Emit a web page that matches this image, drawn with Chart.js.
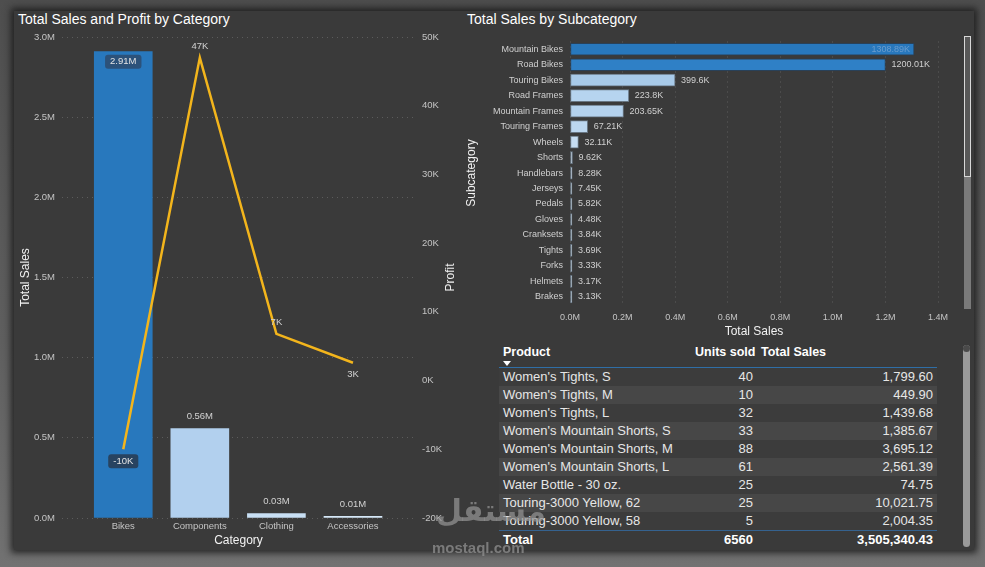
<!DOCTYPE html>
<html lang="en">
<head>
<meta charset="utf-8">
<title>Sales dashboard</title>
<script src="https://cdn.jsdelivr.net/npm/chart.js@4.4.1/dist/chart.umd.min.js"></script>
<style>
    body { margin:0; width:985px; height:567px; overflow:hidden; position:relative;
           background:linear-gradient(to bottom, #4e4e4e 0, #5f5f5f 60%, #727272 100%);
           font-family:"Liberation Sans", Arial, sans-serif; }
    #panel { position:absolute; left:14px; top:11px; width:960px; height:539px; background:#3a3a3a;
             box-shadow:0 0 7px 3px rgba(25,25,25,0.85); }
    .title { position:absolute; color:#ffffff; font-size:14px; line-height:16px; white-space:nowrap; }
    canvas { position:absolute; }
    .track { position:absolute; background:#7a7a7a; }
    #thumb1 { position:absolute; left:964px; top:36px; width:5px; height:139px; background:#585858; border:1px solid #d8d8d8; }
    #track2 { left:963px; top:345px; width:7px; height:202px; border-radius:4px; background:#9a9a9a; }
    #knob { position:absolute; left:963px; top:345px; width:7px; height:7px; border-radius:50%; background:#4a4a4a; }
    table { position:absolute; left:499px; top:340px; width:438px; border-collapse:collapse; color:#e6e6e6; font-size:13px; table-layout:fixed; }
    th { height:27px; font-size:12.5px; font-weight:bold; color:#ffffff; padding:0 4px; vertical-align:top; white-space:nowrap;
         border-bottom:1px solid #2f6ea6; }
    th span { display:block; margin-top:5px; line-height:15px; }
    td { height:18px; padding:0 4px; line-height:18px; white-space:nowrap; }
    tbody tr:nth-child(even) td { background:#474747; }
    tbody tr:nth-child(odd) td { background:#3c3c3c; }
    tfoot td { font-weight:bold; color:#ffffff; border-top:1px solid #35628f; height:17px; line-height:17px; }
    .num { text-align:right; }
    .arrow { width:0; height:0; border-left:4px solid transparent; border-right:4px solid transparent; border-top:5px solid #ffffff; margin-top:1px; }
    .wm { position:absolute; color:rgba(150,150,150,0.7); font-weight:bold; white-space:nowrap; }
</style>
</head>
<body>
<div id="panel"></div>
<div class="title" style="left:18px; top:11px;">Total Sales and Profit by Category</div>
<div class="title" style="left:467px; top:11px;">Total Sales by Subcategory</div>

<canvas id="comboChart" width="446" height="537" style="left:14px; top:11px;"></canvas>
<canvas id="subChart" width="515" height="328" style="left:460px; top:11px;"></canvas>

<div class="track" style="left:964px; top:36px; width:7px; height:273px;"></div>
<div id="thumb1"></div>

<table id="productTable"></table>
<div class="track" id="track2"></div>
<div id="knob"></div>

<div class="wm" style="left:436px; top:493px; font-size:30px; font-family:'DejaVu Sans';">مستقل</div>
<div class="wm" style="left:432px; top:539px; font-size:15px;">mostaql.com</div>

<script>
    /* chart data */
    const categories = ["Bikes", "Components", "Clothing", "Accessories"];
    const categorySales = [2908500, 558000, 28000, 10000];
    const categoryProfit = [-10000, 47000, 6800, 2600];

    const subcategories = ["Mountain Bikes", "Road Bikes", "Touring Bikes", "Road Frames", "Mountain Frames",
        "Touring Frames", "Wheels", "Shorts", "Handlebars", "Jerseys", "Pedals", "Gloves", "Cranksets",
        "Tights", "Forks", "Helmets", "Brakes"];
    const subcategorySales = [1308890, 1200010, 399600, 223800, 203650, 67210, 32110, 9620, 8280, 7450,
        5820, 4480, 3840, 3690, 3330, 3170, 3130];

    const products = ["Women's Tights, S", "Women's Tights, M", "Women's Tights, L", "Women's Mountain Shorts, S",
        "Women's Mountain Shorts, M", "Women's Mountain Shorts, L", "Water Bottle - 30 oz.",
        "Touring-3000 Yellow, 62", "Touring-3000 Yellow, 58"];
    const unitsSold = [40, 10, 32, 33, 88, 61, 25, 25, 5];
    const productSales = [1799.60, 449.90, 1439.68, 1385.67, 3695.12, 2561.39, 74.75, 10021.75, 2004.35];
    const totalUnits = 6560;
    const totalSales = 3505340.43;

    /* colours */
    const catColors = ['#2878bd', '#b2d0ee', '#c8dff4', '#d6e8f8'];
    const subColors = ['#2878bd', '#2f80c6', '#a8cae9', '#b6d4ef', '#b4d2ee', '#bcd7f0', '#c6ddf2',
        '#d0e3f5', '#d0e3f5', '#d0e3f5', '#d0e3f5', '#d0e3f5', '#d0e3f5', '#d0e3f5', '#d0e3f5', '#d0e3f5', '#d0e3f5'];
    const tickColor = '#c4c4c4';
    const gridColor = '#5c5c5c';
    const FONT = '"Liberation Sans", Arial, sans-serif';

    function fmtM(v){ return (v / 1e6).toFixed(2) + 'M'; }
    function fmtK(v){ return Math.round(v / 1000) + 'K'; }
    function fmtK2(v){ return parseFloat((v / 1000).toFixed(2)) + 'K'; }
    function money(v){ return v.toLocaleString('en-US', {minimumFractionDigits: 2, maximumFractionDigits: 2}); }

    function boxText(ctx, txt, x, y, bg){
        const w = ctx.measureText(txt).width + 10;
        ctx.fillStyle = bg;
        ctx.beginPath();
        ctx.roundRect(x - w / 2, y - 7, w, 14, 3);
        ctx.fill();
        ctx.fillStyle = '#e4e4e4';
        ctx.fillText(txt, x, y);
    }

    /* labels on the combo chart + the rotated Profit title */
    const comboLabels = {
        id: 'comboLabels',
        afterDatasetsDraw(chart){
            const ctx = chart.ctx;
            ctx.save();
            ctx.font = '9.5px ' + FONT;
            ctx.textAlign = 'center';
            ctx.textBaseline = 'middle';
            chart.getDatasetMeta(1).data.forEach((bar, i) => {
                const txt = fmtM(categorySales[i]);
                if (i === 0) {
                    boxText(ctx, txt, bar.x, bar.y + 10, 'rgba(45,70,100,0.75)');
                } else {
                    ctx.fillStyle = '#d2d2d2';
                    ctx.fillText(txt, bar.x, bar.y - 12);
                }
            });
            const side = ['below', 'above', 'above', 'below'];
            chart.getDatasetMeta(0).data.forEach((pt, i) => {
                const txt = fmtK(categoryProfit[i]);
                const y = side[i] === 'above' ? pt.y - 11 : pt.y + 12;
                if (i === 0) {
                    boxText(ctx, txt, pt.x, y, 'rgba(40,58,80,0.85)');
                } else {
                    ctx.fillStyle = '#d2d2d2';
                    ctx.fillText(txt, pt.x, y);
                }
            });
            const area = chart.chartArea;
            ctx.translate(chart.scales.y1.right - 9, (area.top + area.bottom) / 2);
            ctx.rotate(-Math.PI / 2);
            ctx.font = '12px ' + FONT;
            ctx.fillStyle = '#f0f0f0';
            ctx.fillText('Profit', 0, 0);
            ctx.restore();
        }
    };

    const noTicks = { drawTicks: false, tickLength: 0 };

    let ctx = document.getElementById('comboChart').getContext('2d');
    let comboChart = new Chart(ctx, {
        type: 'bar',
        data: {
            datasets: [{
                type: 'line',
                label: 'Profit',
                data: categoryProfit.map((v, i) => ({x: i, y: v})),
                yAxisID: 'y1',
                borderColor: '#f3b51c',
                borderWidth: 2.5,
                pointRadius: 0,
                tension: 0,
                order: 0
            }, {
                label: 'Total Sales',
                data: categorySales.map((v, i) => ({x: i, y: v})),
                yAxisID: 'y',
                backgroundColor: catColors,
                barThickness: 58,
                order: 1
            }]
        },
        options: {
            responsive: false,
            animation: false,
            layout: { padding: { top: 26, left: 0, right: 0, bottom: 0 } },
            plugins: { legend: { display: false }, tooltip: { enabled: false }, title: { display: false } },
            scales: {
                x: {
                    type: 'linear',
                    min: -0.8,
                    max: 3.81,
                    offset: false,
                    grid: { display: false, ...noTicks, offset: false },
                    border: { display: false },
                    afterBuildTicks: s => { s.ticks = categories.map((c, i) => ({value: i})); },
                    afterFit: s => { s.height = 30; },
                    ticks: { color: tickColor, padding: 3, font: { size: 9.5, family: FONT },
                             callback: v => categories[v], maxRotation: 0 },
                    title: { display: true, text: 'Category', color: '#f2f2f2', padding: 0,
                             font: { size: 12, family: FONT } }
                },
                y: {
                    position: 'left',
                    min: 0,
                    max: 3000000,
                    afterFit: s => { s.width = 48; },
                    grid: { color: gridColor, ...noTicks },
                    border: { display: false, dash: [1, 4] },
                    ticks: { stepSize: 500000, color: tickColor, padding: 7, font: { size: 9.5, family: FONT },
                             callback: v => (v / 1e6).toFixed(1) + 'M' },
                    title: { display: true, text: 'Total Sales', color: '#f2f2f2', font: { size: 12, family: FONT } }
                },
                y1: {
                    position: 'right',
                    min: -20000,
                    max: 50000,
                    afterFit: s => { s.width = 45; },
                    grid: { display: false, ...noTicks },
                    border: { display: false },
                    ticks: { stepSize: 10000, color: tickColor, padding: 7, font: { size: 9.5, family: FONT },
                             callback: v => (v / 1000) + 'K' }
                }
            }
        },
        plugins: [comboLabels]
    });

    /* value labels for the subcategory bars */
    const subLabels = {
        id: 'subLabels',
        afterDatasetsDraw(chart){
            const c = chart.ctx;
            c.save();
            c.font = '9px ' + FONT;
            c.textBaseline = 'middle';
            chart.getDatasetMeta(0).data.forEach((bar, i) => {
                const txt = fmtK2(subcategorySales[i]);
                if (i === 0) {
                    c.textAlign = 'right';
                    c.fillStyle = '#6a9ccd';
                    c.fillText(txt, bar.x - 4, bar.y);
                } else {
                    c.textAlign = 'left';
                    c.fillStyle = '#d0d0d0';
                    c.fillText(txt, bar.x + 6, bar.y);
                }
            });
            c.restore();
        }
    };

    let ctx2 = document.getElementById('subChart').getContext('2d');
    let subChart = new Chart(ctx2, {
        type: 'bar',
        data: {
            labels: subcategories,
            datasets: [{
                label: 'Total Sales',
                data: subcategorySales,
                backgroundColor: subColors,
                borderColor: subColors.map((c, i) => i < 2 ? 'rgba(30,70,110,0.6)' : 'rgba(110,125,140,0.9)'),
                borderWidth: 1,
                borderSkipped: false,
                barThickness: 12,
                minBarLength: 2
            }]
        },
        options: {
            indexAxis: 'y',
            responsive: false,
            animation: false,
            layout: { padding: { top: 30.5, right: 37, left: 0, bottom: 0 } },
            plugins: { legend: { display: false }, tooltip: { enabled: false } },
            scales: {
                x: {
                    min: 0,
                    max: 1400000,
                    afterFit: s => { s.height = 34.4; },
                    grid: { color: gridColor, ...noTicks },
                    border: { display: false, dash: [1, 4] },
                    ticks: { stepSize: 200000, color: tickColor, padding: 8, font: { size: 9, family: FONT },
                             callback: v => (v / 1e6).toFixed(1) + 'M' },
                    title: { display: true, text: 'Total Sales', color: '#f2f2f2', padding: 0,
                             font: { size: 12, family: FONT } }
                },
                y: {
                    afterFit: s => { s.width = 110; },
                    grid: { display: false, ...noTicks },
                    border: { display: false },
                    ticks: { color: '#d0d0d0', padding: 7, autoSkip: false, font: { size: 9, family: FONT } },
                    title: { display: true, text: 'Subcategory', color: '#f2f2f2', font: { size: 12, family: FONT } }
                }
            }
        },
        plugins: [subLabels]
    });

    /* product table */
    const table = document.getElementById('productTable');
    let html = '<colgroup><col style="width:192px"><col style="width:66px"><col style="width:180px"></colgroup>';
    html += '<thead><tr><th style="text-align:left"><span>Product</span><div class="arrow"></div></th>'
          + '<th class="num"><span>Units sold</span></th><th style="text-align:left"><span>Total Sales</span></th></tr></thead><tbody>';
    products.forEach((p, i) => {
        html += '<tr><td>' + p + '</td><td class="num">' + unitsSold[i] + '</td><td class="num">' + money(productSales[i]) + '</td></tr>';
    });
    html += '</tbody><tfoot><tr><td>Total</td><td class="num">' + totalUnits + '</td><td class="num">' + money(totalSales) + '</td></tr></tfoot>';
    table.innerHTML = html;
</script>
</body>
</html>
